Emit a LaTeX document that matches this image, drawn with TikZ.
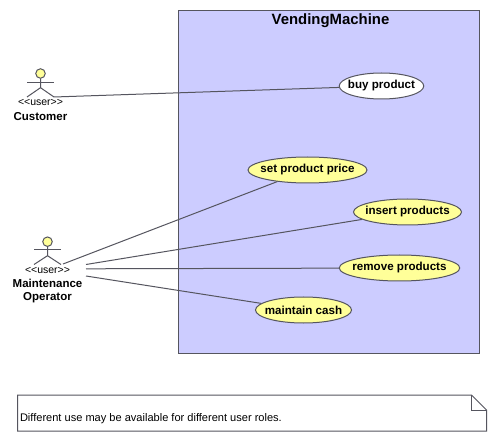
\documentclass[tikz,border=0pt]{standalone}
\usepackage{fontspec}
\setmainfont{Liberation Sans}
\usetikzlibrary{shapes.geometric}
\definecolor{edge}{HTML}{55555F}
\definecolor{sysfill}{HTML}{CCCCFF}
\definecolor{ucyellow}{HTML}{FFFF99}
\tikzset{
  x=1pt,y=-1pt,
  sysbox/.style={draw=edge,line width=1pt,fill=sysfill},
  usecase/.style={ellipse,draw=edge,line width=1pt,fill=ucyellow,inner xsep=-20pt,inner ysep=-5pt,font=\fontsize{11.6}{13}\selectfont\bfseries},
  link/.style={draw=edge,line width=1pt},
  figure/.style={draw=edge,line width=1pt},
  head/.style={circle,draw=edge,line width=1pt,fill=ucyellow,minimum size=9.5pt,inner sep=0pt},
  stereo/.style={inner sep=0pt,font=\fontsize{10.5}{12}\selectfont},
  actorname/.style={inner sep=0pt,align=center,font=\fontsize{11.5}{12.5}\selectfont\bfseries},
}
\begin{document}
\begin{tikzpicture}
\useasboundingbox (0,0) rectangle (496,441);
\fill[white] (0,0) rectangle (496,441);
% system boundary
\path[sysbox] (178.5,10.5) rectangle (479.5,353);
\node[inner sep=0pt,font=\fontsize{14.9}{16}\selectfont\bfseries] (title) at (330.5,21) {VendingMachine};
% use cases
\node[usecase,fill=white,minimum width=84.5pt,minimum height=26pt] (buy) at (381.5,86) {buy product};
\node[usecase,minimum width=119pt,minimum height=26pt] (price) at (307.5,170) {set product price};
\node[usecase,minimum width=108pt,minimum height=26pt] (insert) at (407.5,212) {insert products};
\node[usecase,minimum width=120.5pt,minimum height=26pt] (remove) at (399.5,268) {remove products};
\node[usecase,minimum width=96pt,minimum height=26pt] (cash) at (303.5,310) {maintain cash};
% customer actor
\node[head] (chead) at (40.5,73.5) {};
\draw[figure] (chead.south) -- (40.5,87.7) -- (27,97);
\draw[figure] (40.5,87.7) -- (54,97);
\draw[figure] (27,82.5) -- (54,82.5);
\node[stereo] (cstereo) at (40.5,102) {<{}<user>{}>};
\node[actorname] (cname) at (40.5,117) {Customer};
\coordinate (cfoot) at (54,97);
% operator actor
\node[head] (ohead) at (47.5,241.7) {};
\draw[figure] (ohead.south) -- (47.5,255.7) -- (34,264.5);
\draw[figure] (47.5,255.7) -- (61,264.5);
\draw[figure] (34,250) -- (61,250);
\node[stereo] (ostereo) at (47.5,270) {<{}<user>{}>};
\node[actorname] (oname) at (47.5,291) {Maintenance\\Operator};
\coordinate (ofoot) at (63,264);
\coordinate (oa) at (86,264.5);
\coordinate (ob) at (86,268.8);
\coordinate (oc) at (86,276);
% connectors
\draw[link] (cfoot) -- (buy);
\draw[link] (ofoot) -- (price);
\draw[link] (oa) -- (insert);
\draw[link] (ob) -- (remove);
\draw[link] (oc) -- (cash);
% note
\draw[figure,fill=white] (17.5,395) -- (471.5,395) -- (486.5,410) -- (486.5,431) -- (17.5,431) -- cycle;
\draw[figure] (471.5,395) -- (471.5,410) -- (486.5,410);
\node[anchor=west,inner sep=0pt,font=\fontsize{11.05}{13}\selectfont] (note) at (19.8,419) {Different use may be available for different user roles.};
\end{tikzpicture}
\end{document}
